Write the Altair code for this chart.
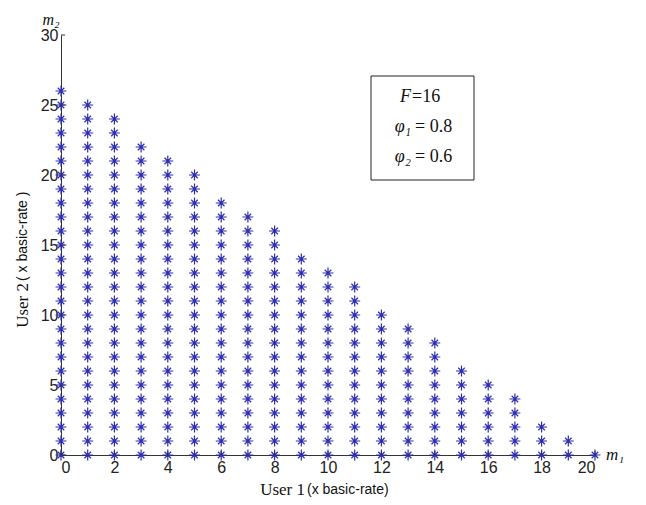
import altair as alt
import pandas as pd

# Data: for each user-1 rate m1, the largest admissible user-2 rate m2
m1_values = [0, 1, 2, 3, 4, 5, 6, 7, 8, 9, 10, 11, 12, 13, 14, 15, 16, 17, 18, 19, 20]
m2_max = [26, 25, 24, 22, 21, 20, 18, 17, 16, 14, 13, 12, 10, 9, 8, 6, 5, 4, 2, 1, 0]

x_ticks = [0, 2, 4, 6, 8, 10, 12, 14, 16, 18, 20]
y_ticks = [0, 5, 10, 15, 20, 25, 30]
legend_sym = ["F", "φ₁", "φ₂"]
legend_val = ["=16", " = 0.8", " = 0.6"]

rows = []
for m1, top in zip(m1_values, m2_max):
    for m2 in range(0, top + 1):
        rows.append({"m1": m1, "m2": m2})
pts = pd.DataFrame(rows)

W, H = 534, 420
xs = alt.Scale(domain=[0, 20], nice=False, zero=False)
ys = alt.Scale(domain=[0, 30], nice=False, zero=False)

star = "M-1,0L1,0M0,-1L0,1M-0.6,-0.6L0.6,0.6M-0.6,0.6L0.6,-0.6"

base_x_axis = alt.Axis(values=x_ticks, title=None, grid=False, ticks=False,
                       domainColor="#333333", labelFont="Liberation Sans",
                       labelFontSize=16, labelColor="#222222", labelPadding=4)
base_y_axis = alt.Axis(values=y_ticks, title=None, grid=False, ticks=False,
                       domainColor="#333333", labelFont="Liberation Sans",
                       labelFontSize=16, labelColor="#222222", labelPadding=3)

points = alt.Chart(pts).mark_point(
    shape=star, size=120, filled=False, stroke="#2e2eb0", strokeWidth=1.2, opacity=1
).encode(
    x=alt.X("m1:Q", scale=xs, axis=base_x_axis),
    y=alt.Y("m2:Q", scale=ys, axis=base_y_axis),
)

xt = alt.Chart(pd.DataFrame({"v": x_ticks})).mark_rule(color="#333333").encode(
    x=alt.X("v:Q", scale=xs), y=alt.value(H), y2=alt.value(H - 4))
yt = alt.Chart(pd.DataFrame({"v": y_ticks})).mark_rule(color="#333333").encode(
    y=alt.Y("v:Q", scale=ys), x=alt.value(0), x2=alt.value(4))

box = alt.Chart(pd.DataFrame({"a": [0]})).mark_rect(
    fill="white", stroke="#222222", strokeWidth=1
).encode(x=alt.value(310), x2=alt.value(413), y=alt.value(41), y2=alt.value(145))


def txt(s, x, y, font, size, angle=0, italic=False, align="center", baseline="middle"):
    kw = dict(font=font, fontSize=size, color="#111111", align=align, baseline=baseline, angle=angle)
    if italic:
        kw["fontStyle"] = "italic"
    return alt.Chart(pd.DataFrame({"t": [s]})).mark_text(**kw).encode(
        text="t:N", x=alt.value(x), y=alt.value(y))


leg_rows = [62, 92, 122]
leg_gap = [1, 4, 4]
legend = []
for s, v, yy, g in zip(legend_sym, legend_val, leg_rows, leg_gap):
    legend.append(txt(s, 350, yy, "Liberation Serif", 18, italic=True, align="right"))
    legend.append(txt(v, 350 + g, yy, "Liberation Serif", 18, align="left"))

labels = [
    txt("User 1", 244, 455, "Liberation Serif", 17, align="right"),
    txt("(x basic-rate)", 246, 455, "Liberation Sans", 14, align="left"),
    txt("User 2", -38, 248, "Liberation Serif", 17, angle=270, align="right"),
    txt("( x basic-rate )", -38, 246, "Liberation Sans", 14, angle=270, align="left"),
    txt("m₂", -10, -10, "Liberation Serif", 16, italic=True, baseline="alphabetic"),
    txt("m₁", 545, 425, "Liberation Serif", 17, italic=True, align="left", baseline="alphabetic"),
]

chart = alt.layer(points, xt, yt, box, *legend, *labels).properties(
    width=W, height=H,
    padding={"left": 53, "top": 27, "right": 40, "bottom": 50},
    autosize=alt.AutoSizeParams(type="none"),
).configure_view(stroke=None).configure_axis(domainWidth=1)

chart.save("out.html", embed_options={"renderer": "svg", "actions": False})
